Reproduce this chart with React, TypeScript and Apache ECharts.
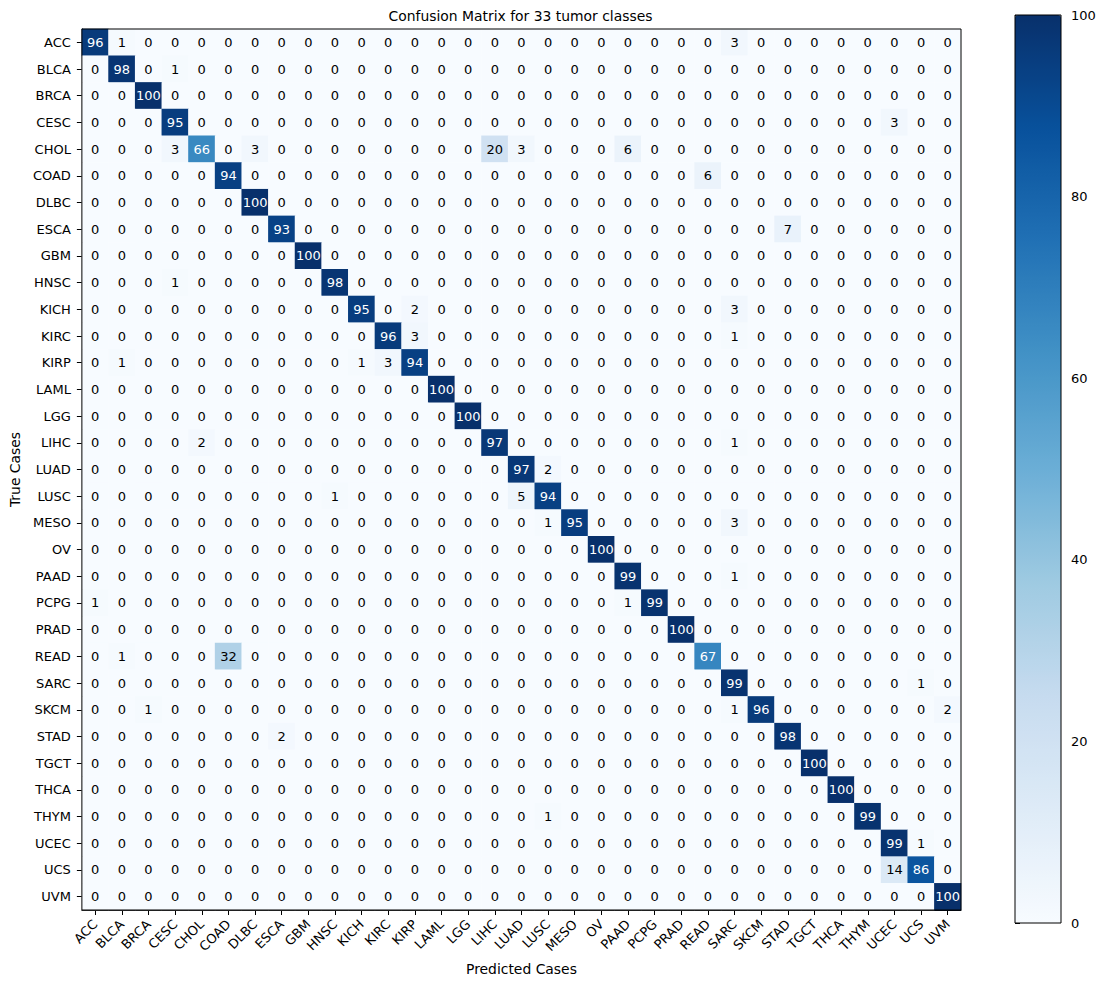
import React, { useEffect, useRef } from "react";
import * as echarts from "echarts";

const classes = [
  "ACC", "BLCA", "BRCA", "CESC", "CHOL", "COAD", "DLBC", "ESCA", "GBM", "HNSC", "KICH",
  "KIRC", "KIRP", "LAML", "LGG", "LIHC", "LUAD", "LUSC", "MESO", "OV", "PAAD", "PCPG",
  "PRAD", "READ", "SARC", "SKCM", "STAD", "TGCT", "THCA", "THYM", "UCEC", "UCS", "UVM",
];

// rows = true class, columns = predicted class (percent)
const matrix: number[][] = [
  /* ACC  */ [96, 1, 0, 0, 0, 0, 0, 0, 0, 0, 0, 0, 0, 0, 0, 0, 0, 0, 0, 0, 0, 0, 0, 0, 3, 0, 0, 0, 0, 0, 0, 0, 0],
  /* BLCA */ [0, 98, 0, 1, 0, 0, 0, 0, 0, 0, 0, 0, 0, 0, 0, 0, 0, 0, 0, 0, 0, 0, 0, 0, 0, 0, 0, 0, 0, 0, 0, 0, 0],
  /* BRCA */ [0, 0, 100, 0, 0, 0, 0, 0, 0, 0, 0, 0, 0, 0, 0, 0, 0, 0, 0, 0, 0, 0, 0, 0, 0, 0, 0, 0, 0, 0, 0, 0, 0],
  /* CESC */ [0, 0, 0, 95, 0, 0, 0, 0, 0, 0, 0, 0, 0, 0, 0, 0, 0, 0, 0, 0, 0, 0, 0, 0, 0, 0, 0, 0, 0, 0, 3, 0, 0],
  /* CHOL */ [0, 0, 0, 3, 66, 0, 3, 0, 0, 0, 0, 0, 0, 0, 0, 20, 3, 0, 0, 0, 6, 0, 0, 0, 0, 0, 0, 0, 0, 0, 0, 0, 0],
  /* COAD */ [0, 0, 0, 0, 0, 94, 0, 0, 0, 0, 0, 0, 0, 0, 0, 0, 0, 0, 0, 0, 0, 0, 0, 6, 0, 0, 0, 0, 0, 0, 0, 0, 0],
  /* DLBC */ [0, 0, 0, 0, 0, 0, 100, 0, 0, 0, 0, 0, 0, 0, 0, 0, 0, 0, 0, 0, 0, 0, 0, 0, 0, 0, 0, 0, 0, 0, 0, 0, 0],
  /* ESCA */ [0, 0, 0, 0, 0, 0, 0, 93, 0, 0, 0, 0, 0, 0, 0, 0, 0, 0, 0, 0, 0, 0, 0, 0, 0, 0, 7, 0, 0, 0, 0, 0, 0],
  /* GBM  */ [0, 0, 0, 0, 0, 0, 0, 0, 100, 0, 0, 0, 0, 0, 0, 0, 0, 0, 0, 0, 0, 0, 0, 0, 0, 0, 0, 0, 0, 0, 0, 0, 0],
  /* HNSC */ [0, 0, 0, 1, 0, 0, 0, 0, 0, 98, 0, 0, 0, 0, 0, 0, 0, 0, 0, 0, 0, 0, 0, 0, 0, 0, 0, 0, 0, 0, 0, 0, 0],
  /* KICH */ [0, 0, 0, 0, 0, 0, 0, 0, 0, 0, 95, 0, 2, 0, 0, 0, 0, 0, 0, 0, 0, 0, 0, 0, 3, 0, 0, 0, 0, 0, 0, 0, 0],
  /* KIRC */ [0, 0, 0, 0, 0, 0, 0, 0, 0, 0, 0, 96, 3, 0, 0, 0, 0, 0, 0, 0, 0, 0, 0, 0, 1, 0, 0, 0, 0, 0, 0, 0, 0],
  /* KIRP */ [0, 1, 0, 0, 0, 0, 0, 0, 0, 0, 1, 3, 94, 0, 0, 0, 0, 0, 0, 0, 0, 0, 0, 0, 0, 0, 0, 0, 0, 0, 0, 0, 0],
  /* LAML */ [0, 0, 0, 0, 0, 0, 0, 0, 0, 0, 0, 0, 0, 100, 0, 0, 0, 0, 0, 0, 0, 0, 0, 0, 0, 0, 0, 0, 0, 0, 0, 0, 0],
  /* LGG  */ [0, 0, 0, 0, 0, 0, 0, 0, 0, 0, 0, 0, 0, 0, 100, 0, 0, 0, 0, 0, 0, 0, 0, 0, 0, 0, 0, 0, 0, 0, 0, 0, 0],
  /* LIHC */ [0, 0, 0, 0, 2, 0, 0, 0, 0, 0, 0, 0, 0, 0, 0, 97, 0, 0, 0, 0, 0, 0, 0, 0, 1, 0, 0, 0, 0, 0, 0, 0, 0],
  /* LUAD */ [0, 0, 0, 0, 0, 0, 0, 0, 0, 0, 0, 0, 0, 0, 0, 0, 97, 2, 0, 0, 0, 0, 0, 0, 0, 0, 0, 0, 0, 0, 0, 0, 0],
  /* LUSC */ [0, 0, 0, 0, 0, 0, 0, 0, 0, 1, 0, 0, 0, 0, 0, 0, 5, 94, 0, 0, 0, 0, 0, 0, 0, 0, 0, 0, 0, 0, 0, 0, 0],
  /* MESO */ [0, 0, 0, 0, 0, 0, 0, 0, 0, 0, 0, 0, 0, 0, 0, 0, 0, 1, 95, 0, 0, 0, 0, 0, 3, 0, 0, 0, 0, 0, 0, 0, 0],
  /* OV   */ [0, 0, 0, 0, 0, 0, 0, 0, 0, 0, 0, 0, 0, 0, 0, 0, 0, 0, 0, 100, 0, 0, 0, 0, 0, 0, 0, 0, 0, 0, 0, 0, 0],
  /* PAAD */ [0, 0, 0, 0, 0, 0, 0, 0, 0, 0, 0, 0, 0, 0, 0, 0, 0, 0, 0, 0, 99, 0, 0, 0, 1, 0, 0, 0, 0, 0, 0, 0, 0],
  /* PCPG */ [1, 0, 0, 0, 0, 0, 0, 0, 0, 0, 0, 0, 0, 0, 0, 0, 0, 0, 0, 0, 1, 99, 0, 0, 0, 0, 0, 0, 0, 0, 0, 0, 0],
  /* PRAD */ [0, 0, 0, 0, 0, 0, 0, 0, 0, 0, 0, 0, 0, 0, 0, 0, 0, 0, 0, 0, 0, 0, 100, 0, 0, 0, 0, 0, 0, 0, 0, 0, 0],
  /* READ */ [0, 1, 0, 0, 0, 32, 0, 0, 0, 0, 0, 0, 0, 0, 0, 0, 0, 0, 0, 0, 0, 0, 0, 67, 0, 0, 0, 0, 0, 0, 0, 0, 0],
  /* SARC */ [0, 0, 0, 0, 0, 0, 0, 0, 0, 0, 0, 0, 0, 0, 0, 0, 0, 0, 0, 0, 0, 0, 0, 0, 99, 0, 0, 0, 0, 0, 0, 1, 0],
  /* SKCM */ [0, 0, 1, 0, 0, 0, 0, 0, 0, 0, 0, 0, 0, 0, 0, 0, 0, 0, 0, 0, 0, 0, 0, 0, 1, 96, 0, 0, 0, 0, 0, 0, 2],
  /* STAD */ [0, 0, 0, 0, 0, 0, 0, 2, 0, 0, 0, 0, 0, 0, 0, 0, 0, 0, 0, 0, 0, 0, 0, 0, 0, 0, 98, 0, 0, 0, 0, 0, 0],
  /* TGCT */ [0, 0, 0, 0, 0, 0, 0, 0, 0, 0, 0, 0, 0, 0, 0, 0, 0, 0, 0, 0, 0, 0, 0, 0, 0, 0, 0, 100, 0, 0, 0, 0, 0],
  /* THCA */ [0, 0, 0, 0, 0, 0, 0, 0, 0, 0, 0, 0, 0, 0, 0, 0, 0, 0, 0, 0, 0, 0, 0, 0, 0, 0, 0, 0, 100, 0, 0, 0, 0],
  /* THYM */ [0, 0, 0, 0, 0, 0, 0, 0, 0, 0, 0, 0, 0, 0, 0, 0, 0, 1, 0, 0, 0, 0, 0, 0, 0, 0, 0, 0, 0, 99, 0, 0, 0],
  /* UCEC */ [0, 0, 0, 0, 0, 0, 0, 0, 0, 0, 0, 0, 0, 0, 0, 0, 0, 0, 0, 0, 0, 0, 0, 0, 0, 0, 0, 0, 0, 0, 99, 1, 0],
  /* UCS  */ [0, 0, 0, 0, 0, 0, 0, 0, 0, 0, 0, 0, 0, 0, 0, 0, 0, 0, 0, 0, 0, 0, 0, 0, 0, 0, 0, 0, 0, 0, 14, 86, 0],
  /* UVM  */ [0, 0, 0, 0, 0, 0, 0, 0, 0, 0, 0, 0, 0, 0, 0, 0, 0, 0, 0, 0, 0, 0, 0, 0, 0, 0, 0, 0, 0, 0, 0, 0, 100],
];

const colorMin = 0;
const colorMax = 100;
const colorbarInterval = 20;
const textThreshold = 50;

const titleText = "Confusion Matrix for 33 tumor classes";
const xAxisTitle = "Predicted Cases";
const yAxisTitle = "True Cases";

// matplotlib "Blues" colormap
const blues = [
  "#f7fbff", "#deebf7", "#c6dbef", "#9ecae1", "#6baed6",
  "#4292c6", "#2171b5", "#08519c", "#08306b",
];

const FONT = "DejaVu Sans";
const SMALL = 13;
const LARGE = 13.9;

export default function App() {
  const ref = useRef<HTMLDivElement>(null);

  useEffect(() => {
    document.body.style.margin = "0";
    if (!ref.current) return;
    const chart = echarts.init(ref.current, null, { renderer: "svg" });

    const heatData: any[] = [];
    matrix.forEach((row, i) => {
      row.forEach((v, j) => {
        heatData.push({
          value: [j, i, v],
          label: { color: v > textThreshold ? "#ffffff" : "#000000" },
        });
      });
    });

    const plot = { left: 80, top: 29, width: 881, height: 881 };
    const cbar = { left: 1015, top: 15, width: 46, height: 908 };

    chart.setOption({
      animation: false,
      backgroundColor: "#ffffff",
      textStyle: { fontFamily: FONT },
      title: {
        text: titleText,
        left: plot.left + plot.width / 2,
        textAlign: "center",
        top: 9,
        padding: 0,
        textStyle: { fontFamily: FONT, fontSize: LARGE, fontWeight: "normal", color: "#000" },
      },
      grid: [
        { ...plot, show: true, borderColor: "#000", borderWidth: 1, backgroundColor: "transparent", z: 10, containLabel: false },
        { ...cbar, show: true, borderColor: "#000", borderWidth: 1, backgroundColor: "transparent", z: 10, containLabel: false },
      ],
      xAxis: [
        {
          type: "category",
          gridIndex: 0,
          data: classes,
          position: "bottom",
          name: xAxisTitle,
          nameLocation: "middle",
          nameGap: 52,
          nameTextStyle: { fontFamily: FONT, fontSize: LARGE, color: "#000" },
          axisLine: { show: true, lineStyle: { color: "#000", width: 1 } },
          axisTick: { show: true, alignWithLabel: true, length: 5, lineStyle: { color: "#000", width: 1 } },
          axisLabel: { interval: 0, rotate: 45, margin: 12, fontFamily: FONT, fontSize: SMALL, color: "#000" },
          splitLine: { show: false },
          splitArea: { show: false },
        },
        { type: "value", gridIndex: 1, show: false, min: 0, max: 1 },
      ],
      yAxis: [
        {
          type: "category",
          gridIndex: 0,
          data: classes,
          inverse: true,
          name: yAxisTitle,
          nameLocation: "middle",
          nameGap: 58,
          nameTextStyle: { fontFamily: FONT, fontSize: LARGE, color: "#000" },
          axisLine: { show: true, lineStyle: { color: "#000", width: 1 } },
          axisTick: { show: true, alignWithLabel: true, length: 5, lineStyle: { color: "#000", width: 1 } },
          axisLabel: { interval: 0, margin: 11, fontFamily: FONT, fontSize: SMALL, color: "#000" },
          splitLine: { show: false },
          splitArea: { show: false },
        },
        {
          type: "value",
          gridIndex: 1,
          position: "right",
          min: colorMin,
          max: colorMax,
          interval: colorbarInterval,
          axisLine: { show: false },
          axisTick: { show: true, length: 5, lineStyle: { color: "#000", width: 1 } },
          axisLabel: { margin: 10, fontFamily: FONT, fontSize: SMALL, color: "#000" },
          splitLine: { show: false },
        },
      ],
      visualMap: {
        type: "continuous",
        seriesIndex: 0,
        min: colorMin,
        max: colorMax,
        calculable: false,
        realtime: false,
        orient: "vertical",
        left: cbar.left,
        top: cbar.top,
        padding: 0,
        itemWidth: cbar.width,
        itemHeight: cbar.height,
        text: undefined,
        showLabel: false,
        inRange: { color: blues },
      },
      series: [
        {
          type: "heatmap",
          xAxisIndex: 0,
          yAxisIndex: 0,
          data: heatData,
          label: {
            show: true,
            formatter: (p: any) => String(p.value[2]),
            fontFamily: FONT,
            fontSize: SMALL,
          },
          itemStyle: { borderWidth: 0 },
          emphasis: { disabled: true },
          silent: true,
        },
        {
          type: "line",
          xAxisIndex: 1,
          yAxisIndex: 1,
          data: [],
          silent: true,
        },
      ],
    });

    return () => chart.dispose();
  }, []);

  return <div ref={ref} style={{ width: 1106, height: 987 }} />;
}
